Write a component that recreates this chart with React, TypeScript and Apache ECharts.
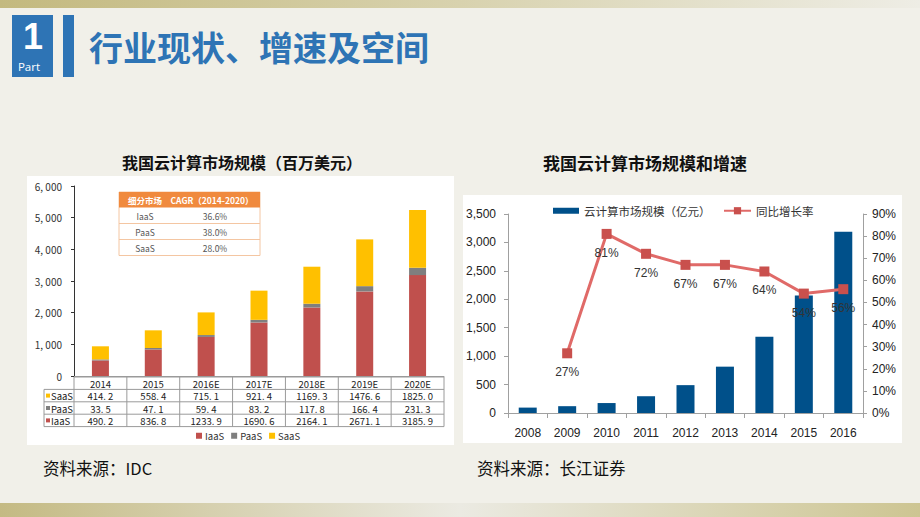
import React, { useEffect, useRef } from "react";
import * as echarts from "echarts";

// ---------- data: left chart ----------
const leftCategories = ["2014", "2015", "2016E", "2017E", "2018E", "2019E", "2020E"];
const iaasValues = [490.2, 836.8, 1233.9, 1690.6, 2164.1, 2671.1, 3185.9];
const paasValues = [33.5, 47.1, 59.4, 83.2, 117.8, 166.4, 231.3];
const saasValues = [414.2, 558.4, 715.1, 921.4, 1169.3, 1476.6, 1825.0];
const leftMax = 6000;
const leftInterval = 1000;
const cagrHeader = ["细分市场", "CAGR（2014-2020）"];
const cagrSegments = ["IaaS", "PaaS", "SaaS"];
const cagrValues = ["36.6%", "38.0%", "28.0%"];

// ---------- data: right chart ----------
const rightYears = ["2008", "2009", "2010", "2011", "2012", "2013", "2014", "2015", "2016"];
const marketSize = [95, 120, 175, 295, 490, 815, 1340, 2065, 3190];
const growthRate = [null, 27, 81, 72, 67, 67, 64, 54, 56];
const rightMax = 3500;
const rightInterval = 500;
const rateMax = 90;
const rateInterval = 10;

// ---------- texts ----------
const pageTitle = "行业现状、增速及空间";
const leftTitle = "我国云计算市场规模（百万美元）";
const rightTitle = "我国云计算市场规模和增速";
const leftSource = "资料来源：IDC";
const rightSource = "资料来源：长江证券";

const COLOR_IAAS = "#c0504d";
const COLOR_PAAS = "#7f7f7f";
const COLOR_SAAS = "#ffc000";
const BLUE = "#2e74b5";
const CJK = "'Noto Sans CJK SC', 'Noto Sans', sans-serif";
const LAT = "'Liberation Sans', Arial, sans-serif";

// left grid geometry
const LG = { left: 74, top: 186, width: 370, height: 190 };
// right grid geometry
const RG = { left: 508, top: 214, right: 57, bottom: 104 };

function fmtSim(v: number) {
  // mimic the SimSun-like spacing of the source table
  return v.toFixed(1).replace(".", ". ");
}

function txt(x: number, y: number, text: string, opts: any = {}) {
  const align = opts.align || "left";
  const va = opts.va || "middle";
  return {
    type: "text",
    x,
    y,
    z: opts.z ?? 5,
    silent: true,
    style: {
      text,
      fill: opts.fill || "#222",
      font: `${opts.weight || "normal"} ${opts.size || 10}px ${opts.family || CJK}`,
      textAlign: align,
      align,
      textVerticalAlign: va,
      verticalAlign: va,
    },
  };
}

function buildTable() {
  const els: any[] = [];
  const colW = LG.width / leftCategories.length;
  const x0 = LG.left;
  const xLab = 44;
  const xEnd = LG.left + LG.width;
  const rowTop = LG.top + LG.height + 1;
  const rowH = 12.4;
  const lineColor = "#9a9a9a";
  const rows = [
    { name: "SaaS", color: COLOR_SAAS, vals: saasValues },
    { name: "PaaS", color: COLOR_PAAS, vals: paasValues },
    { name: "IaaS", color: COLOR_IAAS, vals: iaasValues },
  ];
  for (let r = 0; r <= 4; r++) {
    const y = rowTop + r * rowH;
    els.push({
      type: "line",
      z: 5,
      silent: true,
      shape: { x1: r === 0 ? x0 : xLab, y1: y, x2: xEnd, y2: y },
      style: { stroke: lineColor, lineWidth: 1 },
    });
  }
  els.push({
    type: "line",
    z: 5,
    silent: true,
    shape: { x1: xLab, y1: rowTop + rowH, x2: xLab, y2: rowTop + 4 * rowH },
    style: { stroke: lineColor, lineWidth: 1 },
  });
  for (let c = 0; c <= leftCategories.length; c++) {
    const x = x0 + c * colW;
    els.push({
      type: "line",
      z: 5,
      silent: true,
      shape: { x1: x, y1: rowTop, x2: x, y2: rowTop + 4 * rowH },
      style: { stroke: lineColor, lineWidth: 1 },
    });
  }
  leftCategories.forEach((c, i) => {
    els.push(txt(x0 + (i + 0.5) * colW, rowTop + rowH / 2 + 0.5, c, { align: "center", size: 9.5 }));
  });
  rows.forEach((row, r) => {
    const yc = rowTop + (r + 1.5) * rowH + 0.5;
    els.push({
      type: "rect",
      z: 5,
      silent: true,
      shape: { x: xLab + 2, y: yc - 2.5, width: 4, height: 4 },
      style: { fill: row.color },
    });
    els.push(txt(xLab + 7, yc, row.name, { size: 9.5 }));
    row.vals.forEach((v, i) => {
      els.push(txt(x0 + (i + 0.5) * colW, yc, fmtSim(v), { align: "center", size: 9.5 }));
    });
  });
  return els;
}

function buildInset() {
  const els: any[] = [];
  const x = 119, y = 192, w = 141, hh = 15.5, rh = 16;
  const border = "#f4c6a2";
  els.push({
    type: "rect",
    z: 6,
    silent: true,
    shape: { x, y, width: w, height: hh + 3 * rh },
    style: { fill: "#ffffff", stroke: border, lineWidth: 1 },
  });
  els.push({
    type: "rect",
    z: 6,
    silent: true,
    shape: { x, y, width: w, height: hh },
    style: { fill: "#f08a3e" },
  });
  els.push(txt(145, y + hh / 2, cagrHeader[0], { align: "center", size: 8.5, fill: "#ffffff", weight: "bold", z: 7 }));
  els.push(txt(212, y + hh / 2, cagrHeader[1], { align: "center", size: 8.5, fill: "#ffffff", weight: "bold", z: 7 }));
  cagrSegments.forEach((s, i) => {
    const yc = y + hh + (i + 0.5) * rh;
    if (i > 0) {
      els.push({
        type: "line",
        z: 6,
        silent: true,
        shape: { x1: x, y1: y + hh + i * rh, x2: x + w, y2: y + hh + i * rh },
        style: { stroke: border, lineWidth: 1 },
      });
    }
    els.push(txt(145, yc, s, { align: "center", size: 8.5, fill: "#555", z: 7 }));
    els.push(txt(215, yc, cagrValues[i], { align: "center", size: 8.5, fill: "#555", z: 7 }));
  });
  return els;
}

function buildOption(): any {
  const graphic: any[] = [
    { type: "rect", z: -100, silent: true, shape: { x: 0, y: 0, width: 920, height: 517 }, style: { fill: "#f1f0e9" } },
    {
      type: "rect", z: -99, silent: true,
      shape: { x: 0, y: 0, width: 920, height: 8 },
      style: {
        fill: new echarts.graphic.LinearGradient(0, 0, 1, 0, [
          { offset: 0, color: "#c3b97f" },
          { offset: 0.5, color: "#d8d2ae" },
          { offset: 1, color: "#eeede5" },
        ]),
      },
    },
    {
      type: "rect", z: -99, silent: true,
      shape: { x: 0, y: 503, width: 920, height: 14 },
      style: {
        fill: new echarts.graphic.LinearGradient(0, 0, 1, 0, [
          { offset: 0, color: "#c4ba83" },
          { offset: 0.5, color: "#ebeae2" },
          { offset: 1, color: "#cdc592" },
        ]),
      },
    },
    // header
    { type: "rect", z: 1, silent: true, shape: { x: 12, y: 15, width: 41, height: 62 }, style: { fill: BLUE } },
    txt(33, 36, "1", { align: "center", size: 36, weight: "bold", fill: "#ffffff", family: LAT, z: 2 }),
    txt(29, 66, "Part", { align: "center", size: 11.5, fill: "#ffffff", family: "'Open Sans', sans-serif", z: 2 }),
    { type: "rect", z: 1, silent: true, shape: { x: 63, y: 15, width: 11, height: 62 }, style: { fill: BLUE } },
    txt(89, 46, pageTitle, { size: 34, weight: "bold", fill: BLUE, z: 2 }),
    // panels
    { type: "rect", z: -50, silent: true, shape: { x: 27, y: 176, width: 427, height: 269 }, style: { fill: "#ffffff" } },
    { type: "rect", z: -50, silent: true, shape: { x: 463, y: 195, width: 439, height: 248 }, style: { fill: "#ffffff" } },
    // chart titles
    txt(242, 162, leftTitle, { align: "center", size: 16, weight: "bold", fill: "#111" }),
    txt(645, 162, rightTitle, { align: "center", size: 17, weight: "bold", fill: "#111" }),
    // sources
    txt(43, 468, leftSource, { size: 16.5, fill: "#111" }),
    txt(477, 468, rightSource, { size: 16.5, fill: "#111" }),
    ...buildTable(),
    ...buildInset(),
  ];

  return {
    animation: false,
    backgroundColor: "transparent",
    graphic,
    grid: [
      { left: LG.left, top: LG.top, width: LG.width, height: LG.height },
      { left: RG.left, top: RG.top, right: RG.right, bottom: RG.bottom },
    ],
    legend: [
      {
        data: ["IaaS", "PaaS", "SaaS"],
        left: 196,
        top: 431,
        padding: 0,
        itemWidth: 6,
        itemHeight: 6,
        itemGap: 7,
        icon: "rect",
        textStyle: { fontSize: 9.5, color: "#333", fontFamily: CJK, padding: [0, 0, 0, -2] },
      },
      {
        data: ["云计算市场规模（亿元）"],
        left: 553,
        top: 205,
        padding: 0,
        itemWidth: 26,
        itemHeight: 6,
        icon: "rect",
        textStyle: { fontSize: 11.5, color: "#333", fontFamily: CJK },
      },
      {
        data: ["同比增长率"],
        left: 723,
        top: 205,
        padding: 0,
        itemWidth: 27,
        itemHeight: 9,
        textStyle: { fontSize: 11.5, color: "#333", fontFamily: CJK },
      },
    ],
    xAxis: [
      {
        type: "category",
        gridIndex: 0,
        data: leftCategories,
        axisLine: { show: true, lineStyle: { color: "#9a9a9a", width: 1 } },
        axisTick: { show: false },
        axisLabel: { show: false },
      },
      {
        type: "category",
        gridIndex: 1,
        data: rightYears,
        axisLine: { show: true, lineStyle: { color: "#a0a0a0", width: 1 } },
        axisTick: { show: true, length: 5, lineStyle: { color: "#a0a0a0" } },
        axisLabel: { margin: 14, fontSize: 12, color: "#222", fontFamily: LAT },
      },
    ],
    yAxis: [
      {
        type: "value",
        gridIndex: 0,
        min: 0,
        max: leftMax,
        interval: leftInterval,
        axisLine: { show: true, lineStyle: { color: "#333", width: 1 } },
        axisTick: { show: true, length: 3, lineStyle: { color: "#333" } },
        splitLine: { show: false },
        axisLabel: {
          margin: 12,
          fontSize: 10,
          color: "#333",
          fontFamily: CJK,
          formatter: (v: number) => (v >= 1000 ? `${Math.floor(v / 1000)}, ${String(v % 1000).padStart(3, "0")}` : `${v}`),
        },
      },
      {
        type: "value",
        gridIndex: 1,
        min: 0,
        max: rightMax,
        interval: rightInterval,
        position: "left",
        axisLine: { show: true, lineStyle: { color: "#a0a0a0", width: 1 } },
        axisTick: { show: true, length: 4, lineStyle: { color: "#a0a0a0" } },
        splitLine: { show: false },
        axisLabel: {
          margin: 12,
          fontSize: 12,
          color: "#222",
          fontFamily: LAT,
          formatter: (v: number) => v.toLocaleString("en-US"),
        },
      },
      {
        type: "value",
        gridIndex: 1,
        min: 0,
        max: rateMax,
        interval: rateInterval,
        position: "right",
        axisLine: { show: true, lineStyle: { color: "#a0a0a0", width: 1 } },
        axisTick: { show: true, length: 4, lineStyle: { color: "#a0a0a0" } },
        splitLine: { show: false },
        axisLabel: { margin: 9, fontSize: 12, color: "#222", fontFamily: LAT, formatter: "{value}%" },
      },
    ],
    series: [
      {
        name: "IaaS",
        type: "bar",
        stack: "cloud",
        xAxisIndex: 0,
        yAxisIndex: 0,
        barWidth: 17,
        data: iaasValues,
        itemStyle: { color: COLOR_IAAS },
      },
      {
        name: "PaaS",
        type: "bar",
        stack: "cloud",
        xAxisIndex: 0,
        yAxisIndex: 0,
        barWidth: 17,
        data: paasValues,
        itemStyle: { color: COLOR_PAAS },
      },
      {
        name: "SaaS",
        type: "bar",
        stack: "cloud",
        xAxisIndex: 0,
        yAxisIndex: 0,
        barWidth: 17,
        data: saasValues,
        itemStyle: { color: COLOR_SAAS },
      },
      {
        name: "云计算市场规模（亿元）",
        type: "bar",
        xAxisIndex: 1,
        yAxisIndex: 1,
        barWidth: 18,
        data: marketSize,
        itemStyle: { color: "#00508a" },
      },
      {
        name: "同比增长率",
        type: "line",
        xAxisIndex: 1,
        yAxisIndex: 2,
        data: growthRate,
        connectNulls: false,
        symbol: "rect",
        symbolSize: 10,
        lineStyle: { color: "#e06a68", width: 3 },
        itemStyle: { color: "#c9504d" },
        z: 5,
        label: {
          show: true,
          position: "bottom",
          distance: 8,
          formatter: "{c}%",
          fontSize: 12,
          color: "#333",
          fontFamily: LAT,
        },
      },
    ],
  };
}

export default function App() {
  const ref = useRef<HTMLDivElement>(null);
  useEffect(() => {
    if (!ref.current) return;
    const chart = echarts.init(ref.current, null, { renderer: "svg" });
    chart.setOption(buildOption());
    return () => chart.dispose();
  }, []);
  return (
    <div
      ref={ref}
      style={{ position: "absolute", left: 0, top: 0, width: 920, height: 517 }}
    />
  );
}
